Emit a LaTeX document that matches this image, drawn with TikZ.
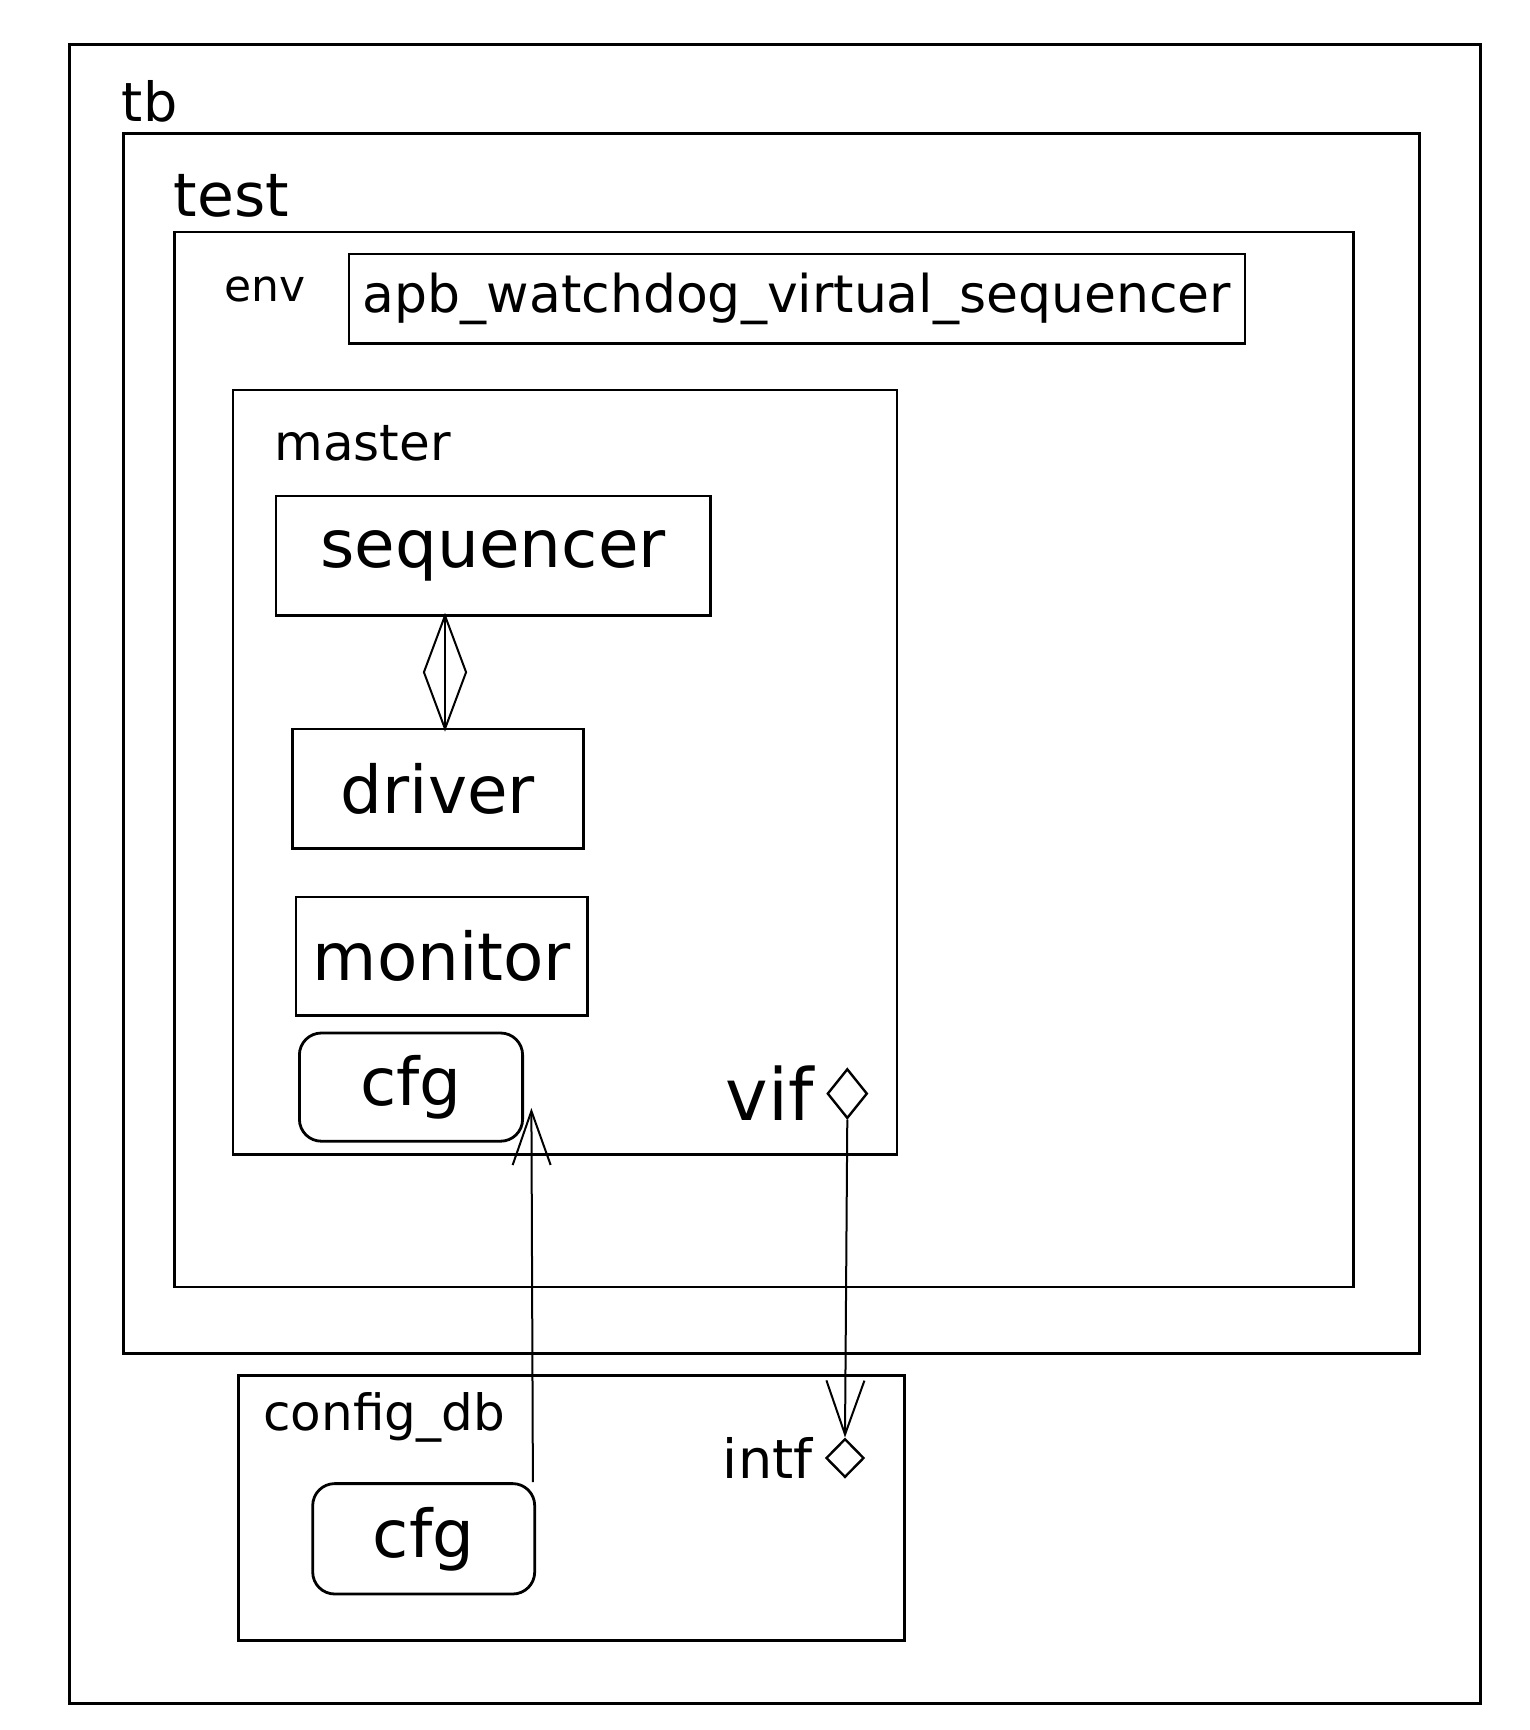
\documentclass[tikz,border=0pt]{standalone}
\usepackage{fontspec}
\setmainfont{DejaVu Sans}
\usetikzlibrary{positioning,arrows.meta,shapes.geometric}
\tikzset{
  frame/.style={rectangle, draw=black, line width=1.4pt, inner sep=0pt},
  block/.style={frame, font=\fontsize{33}{36}\selectfont},
  cfgbox/.style={block, rounded corners=11pt},
  tag/.style={anchor=west, inner sep=0pt},
  port/.style={diamond, draw=black, line width=1.2pt, inner sep=0pt},
  connect/.style={line width=1pt, -{Straight Barb[length=27pt,width=19pt,line width=1pt]}}
}
\begin{document}
\begin{tikzpicture}[x=0.5pt, y=-0.5pt]
	\useasboundingbox (0,0) rectangle (1530,1730);
	% containers
	\node[frame, minimum width=705.4pt, minimum height=829.6pt] (tb) at (775,873.8) {};
	\node[frame, minimum width=647.9pt, minimum height=609.8pt] (test) at (771.6,743.5) {};
	\node[frame, minimum width=589.4pt, minimum height=527.5pt] (env) at (763.9,759.5) {};
	\node[frame, minimum width=332pt, minimum height=382.2pt] (master) at (565,772.2) {};
	\node[frame, minimum width=333pt, minimum height=132.6pt] (cfgdb) at (571.7,1507.9) {};
	\node[tag, font=\fontsize{27}{30}\selectfont] (tblbl) at (121.5,101.6) {tb};
	\node[tag, font=\fontsize{30}{33}\selectfont] (testlbl) at (173.4,195.5) {test};
	\node[tag, font=\fontsize{22}{25}\selectfont] (envlbl) at (224.3,289.4) {env};
	\node[tag, font=\fontsize{25}{28}\selectfont] (masterlbl) at (274,443) {master};
	\node[tag, font=\fontsize{25}{28}\selectfont] (cfgdblbl) at (263,1417.3) {config\_db};
	% blocks
	\node[frame, font=\fontsize{26}{29}\selectfont, minimum width=448pt, minimum height=44.8pt] (vseqr) at (797,298.8) {apb\_watchdog\_virtual\_sequencer};
	\node[block, minimum width=217.2pt, minimum height=59.7pt] (seqr) at (493.2,555.7) {sequencer};
	\node[block, minimum width=145.3pt, minimum height=59.7pt] (drv) at (438,788.7) {driver};
	\node[block, minimum width=145.9pt, minimum height=59.1pt] (mon) at (441.9,956.1) {monitor};
	\node[cfgbox, minimum width=111.6pt, minimum height=54.1pt] (cfg) at (411,1087.1) {cfg};
	\node[cfgbox, minimum width=111pt, minimum height=55.2pt] (dbcfg) at (423.7,1538.8) {cfg};
	% ports
	\node[port, minimum width=20pt, minimum height=24.8pt] (vifport) at (847.3,1093.6) {};
	\node[port, minimum width=19pt, minimum height=19.3pt] (intfport) at (845,1458) {};
	\node[inner sep=0pt, font=\fontsize{36}{39}\selectfont, left=6pt of vifport] (viflbl) {vif};
	\node[inner sep=0pt, font=\fontsize{27}{30}\selectfont, left=6pt of intfport] (intflbl) {intf};
	% connections
	\node[port, line width=1pt, minimum width=21.5pt, minimum height=57pt] (agg) at (445,672.2) {};
	\draw[line width=1pt] (seqr.south -| agg.north) -- (drv.north -| agg.south);
	\coordinate (cfgtip) at (531.4,1108);
	\draw[connect] ([xshift=-1.6pt]dbcfg.north east) -- (cfgtip);
	\draw[connect] (vifport.south) -- (intfport.north);
\end{tikzpicture}
\end{document}
